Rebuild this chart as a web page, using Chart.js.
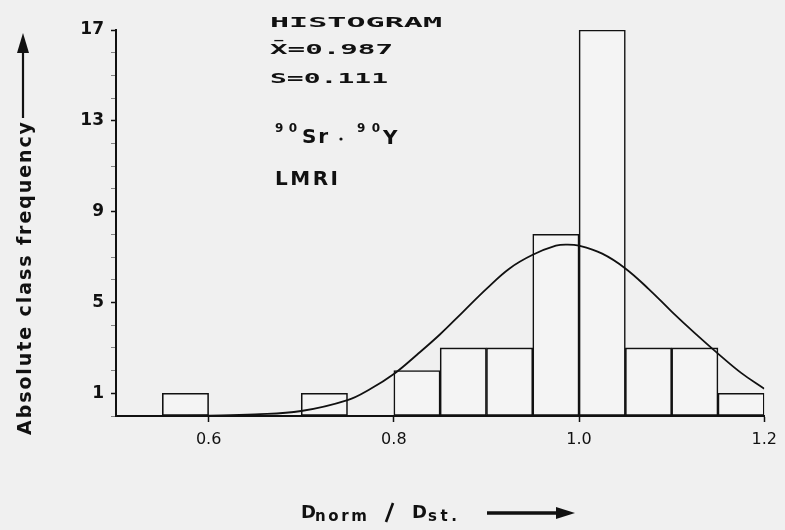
<!DOCTYPE html>
<html>
<head>
<meta charset="utf-8">
<script src="https://cdn.jsdelivr.net/npm/chart.js@4.4.1/dist/chart.umd.min.js"></script>
<style>
  html, body { margin: 0; padding: 0; background: #f0f0f0; }
  #wrap { width: 785px; height: 530px; }
</style>
</head>
<body>
<div id="wrap"><canvas id="histChart" width="785" height="530"></canvas></div>
<script>
// class mid-points (width 0.05) and absolute frequencies
const classMids = [0.575, 0.725, 0.825, 0.875, 0.925, 0.975, 1.025, 1.075, 1.125, 1.175];
const classFreq = [1, 1, 2, 3, 3, 8, 17, 3, 3, 1];

// fitted curve
const curveX = [0.55, 0.6, 0.65, 0.7, 0.75, 0.775, 0.8, 0.825, 0.85, 0.875, 0.9, 0.925, 0.95, 0.975,
                0.987, 1.0, 1.025, 1.05, 1.075, 1.1, 1.125, 1.15, 1.175, 1.2];
const curveY = [0.0, 0.02, 0.07, 0.22, 0.7, 1.2, 1.85, 2.7, 3.6, 4.6, 5.6, 6.5, 7.1, 7.5,
                7.55, 7.5, 7.15, 6.5, 5.6, 4.6, 3.65, 2.75, 1.9, 1.2];

const yTicks = [1, 5, 9, 13, 17];
const xTicks = [0.6, 0.8, 1.0, 1.2];

const ink = '#111';
const sans = '"DejaVu Sans"';

// draw text stretched (scale) or spaced out to a given width
function fitText(ctx, txt, x, y, width, font, mode) {
    ctx.save();
    ctx.font = font;
    ctx.letterSpacing = '0px';
    const w = ctx.measureText(txt).width;
    if (mode === 'scale') {
        ctx.translate(x, y);
        ctx.scale(width / w, 1);
        ctx.fillText(txt, 0, 0);
    } else {
        const n = [...txt].length;
        ctx.letterSpacing = Math.max((width - w) / Math.max(n - 1, 1), 0) + 'px';
        ctx.fillText(txt, x, y);
    }
    ctx.restore();
}

const textPlugin = {
    id: 'labels',
    afterDraw(chart) {
        const ctx = chart.ctx;
        ctx.save();
        ctx.fillStyle = ink;
        ctx.strokeStyle = ink;
        ctx.textBaseline = 'alphabetic';

        // stats block
        const mono = 'bold 14px "DejaVu Sans Mono"';
        fitText(ctx, 'HISTOGRAM', 270, 27, 172, mono, 'scale');
        fitText(ctx, 'X\u0304=0.987', 270, 54, 123, mono, 'scale');
        fitText(ctx, 'S=0.111', 270, 83, 118, mono, 'scale');

        fitText(ctx, '90', 275, 132, 22, 'bold 12px ' + sans, 'space');
        fitText(ctx, 'Sr', 302, 143, 26, 'bold 20px ' + sans, 'space');
        ctx.beginPath();
        ctx.arc(341, 139, 1.6, 0, Math.PI * 2);
        ctx.fill();
        fitText(ctx, '90', 357, 132, 23, 'bold 12px ' + sans, 'space');
        ctx.font = 'bold 20px ' + sans;
        ctx.fillText('Y', 383, 144);
        fitText(ctx, 'LMRI', 275, 185, 63, 'bold 20px ' + sans, 'space');

        // y title with arrow
        ctx.save();
        ctx.translate(31, 435);
        ctx.rotate(-Math.PI / 2);
        fitText(ctx, 'Absolute class frequency', 0, 0, 313, 'bold 19px ' + sans, 'space');
        ctx.restore();
        ctx.lineWidth = 2.2;
        ctx.beginPath();
        ctx.moveTo(23, 118);
        ctx.lineTo(23, 48);
        ctx.stroke();
        ctx.beginPath();
        ctx.moveTo(23, 33);
        ctx.lineTo(17, 53);
        ctx.lineTo(29, 53);
        ctx.closePath();
        ctx.fill();

        // x title with arrow
        ctx.font = 'bold 18px ' + sans;
        ctx.fillText('D', 301, 518);
        ctx.fillText('D', 412, 518);
        fitText(ctx, 'norm', 315, 521, 52, 'bold 15px ' + sans, 'space');
        fitText(ctx, 'st.', 428, 521, 29, 'bold 15px ' + sans, 'space');
        ctx.lineWidth = 2.6;
        ctx.beginPath();
        ctx.moveTo(393, 503);
        ctx.lineTo(386, 522);
        ctx.stroke();
        ctx.lineWidth = 3.5;
        ctx.beginPath();
        ctx.moveTo(487, 513);
        ctx.lineTo(560, 513);
        ctx.stroke();
        ctx.beginPath();
        ctx.moveTo(575, 513);
        ctx.lineTo(556, 507);
        ctx.lineTo(556, 519);
        ctx.closePath();
        ctx.fill();
        ctx.restore();
    }
};

new Chart(document.getElementById('histChart'), {
    type: 'bar',
    data: {
        datasets: [{
            type: 'line',
            data: curveX.map((x, i) => ({ x: x, y: curveY[i] })),
            borderColor: ink,
            borderWidth: 1.8,
            pointRadius: 0,
            tension: 0.4,
            fill: false,
            order: 0
        }, {
            data: classMids.map((x, i) => ({ x: x, y: classFreq[i] })),
            backgroundColor: '#f4f4f4',
            borderColor: ink,
            borderWidth: 1.6,
            borderSkipped: false,
            barPercentage: 1,
            categoryPercentage: 1,
            order: 1
        }]
    },
    plugins: [textPlugin],
    options: {
        responsive: false,
        animation: false,
        layout: { padding: { top: 30, right: 19, left: 0, bottom: 0 } },
        plugins: { legend: { display: false }, tooltip: { enabled: false } },
        scales: {
            x: {
                type: 'linear',
                min: 0.5,
                max: 1.2,
                offset: false,
                afterBuildTicks: s => { s.ticks = xTicks.map(v => ({ value: v })); },
                afterFit: s => { s.height = 114; },
                ticks: {
                    color: ink,
                    font: { size: 16, family: 'DejaVu Sans' },
                    padding: 8,
                    maxRotation: 0,
                    autoSkip: false,
                    callback: v => v.toFixed(1)
                },
                grid: { drawOnChartArea: false, offset: false, tickLength: 6, color: ink, tickWidth: 1.5 },
                border: { color: ink, width: 2 }
            },
            y: {
                min: 0,
                max: 17,
                afterBuildTicks: s => {
                    const t = [];
                    for (let v = 0; v <= 17; v++) t.push({ value: v });
                    s.ticks = t;
                },
                afterFit: s => { s.width = 116; },
                ticks: {
                    color: ink,
                    font: { size: 17, family: 'DejaVu Sans', weight: 'bold' },
                    padding: 7,
                    autoSkip: false,
                    callback: v => yTicks.includes(v) ? String(v) : ''
                },
                grid: {
                    drawOnChartArea: false,
                    offset: false,
                    tickLength: 5,
                    tickColor: c => yTicks.includes(c.tick.value) ? ink : '#666',
                    tickWidth: c => yTicks.includes(c.tick.value) ? 1.5 : 0.8
                },
                border: { color: ink, width: 2 }
            }
        }
    }
});
</script>
</body>
</html>
